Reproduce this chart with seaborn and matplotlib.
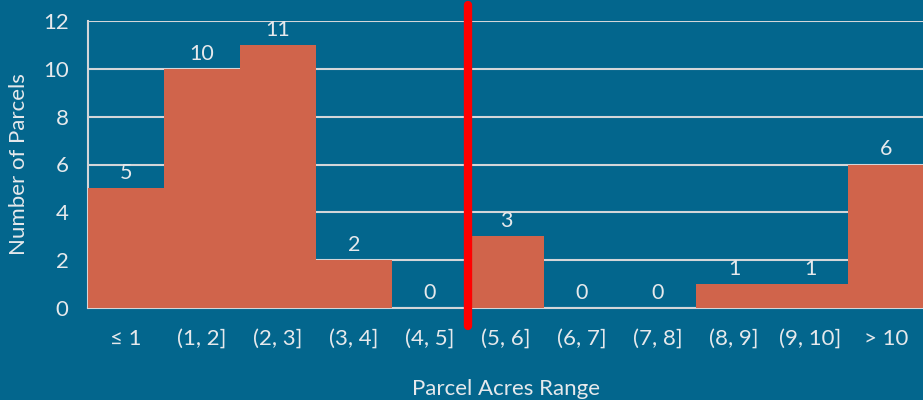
import matplotlib
matplotlib.use("Agg")
import matplotlib.pyplot as plt
import seaborn as sns
import pandas as pd

# Parcel counts by acreage bin
categories = ["≤ 1", "(1, 2]", "(2, 3]", "(3, 4]", "(4, 5]", "(5, 6]",
              "(6, 7]", "(7, 8]", "(8, 9]", "(9, 10]", "> 10"]
counts = [5, 10, 11, 2, 0, 3, 0, 0, 1, 1, 6]
y_ticks = [0, 2, 4, 6, 8, 10, 12]
threshold_position = 4.5  # boundary between (4, 5] and (5, 6]

BG = "#03668D"
BAR = "#D0644B"
TXT = "#E6E9EC"
GRID = "#D3D6D9"

sns.set_theme(style="white")
plt.rcParams["font.family"] = ["Lato", "DejaVu Sans"]

df = pd.DataFrame({"range": categories, "count": counts})

fig = plt.figure(figsize=(9.23, 4.0), dpi=100, facecolor=BG)
ax = fig.add_axes([88 / 923, 1 - 308 / 400, (924 - 88) / 923, (308 - 21) / 400])
ax.set_facecolor(BG)

sns.barplot(data=df, x="range", y="count", color=BAR, width=1.0,
            saturation=1, edgecolor="none", linewidth=0, ax=ax, zorder=2)

ax.set_ylim(0, 12)
ax.set_xlim(-0.5, len(categories) - 0.5)
ax.set_yticks(y_ticks)
ax.yaxis.grid(True, color=GRID, linewidth=1.5, zorder=0)
ax.set_axisbelow(True)

for i, v in enumerate(counts):
    ax.text(i, v + 0.22, str(v), ha="center", va="bottom",
            color=TXT, fontsize=15.5)

for side in ["top", "right"]:
    ax.spines[side].set_visible(False)
for side in ["left", "bottom"]:
    ax.spines[side].set_color(GRID)
    ax.spines[side].set_linewidth(1.5)
    ax.spines[side].set_zorder(1)

ax.tick_params(axis="both", length=0, colors=TXT, labelsize=16)
ax.tick_params(axis="x", pad=15)
ax.tick_params(axis="y", pad=14)

ax.set_xlabel("Parcel Acres Range", color=TXT, fontsize=16, labelpad=22)
ax.set_ylabel("Number of Parcels", color=TXT, fontsize=16, labelpad=10)

ax.axvline(threshold_position, ymin=-0.063, ymax=1.056, color="#FF0000",
           linewidth=6, clip_on=False, zorder=5)

fig.savefig("out.png", dpi=100, facecolor=BG)
